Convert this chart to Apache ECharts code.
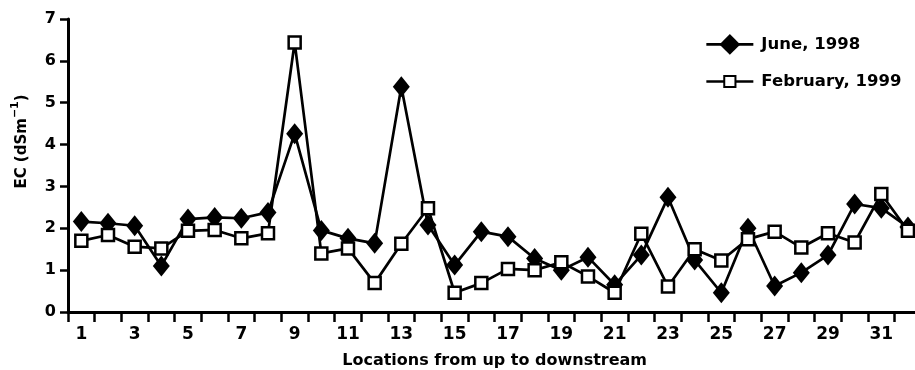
<!DOCTYPE html>
<html>
<head>
<meta charset="utf-8">
<script src="https://cdn.jsdelivr.net/npm/echarts@6/dist/echarts.min.js"></script>
<style>
  html, body { margin: 0; padding: 0; background: #fff; }
  #chart { width: 915px; height: 370px; }
</style>
</head>
<body>
<div id="chart"></div>
<script>
// Sampling locations, listed from upstream to downstream
const locations = ['1','2','3','4','5','6','7','8','9','10','11','12','13','14','15','16',
                   '17','18','19','20','21','22','23','24','25','26','27','28','29','30','31','32'];

// Electrical conductivity (dS/m) per location
const june1998 = [2.16, 2.12, 2.06, 1.10, 2.22, 2.26, 2.24, 2.38, 4.26, 1.95, 1.76, 1.64, 5.38, 2.08, 1.12, 1.92,
                  1.80, 1.28, 1.00, 1.31, 0.65, 1.36, 2.74, 1.24, 0.46, 2.00, 0.62, 0.94, 1.36, 2.58, 2.48, 2.03];
const feb1999  = [1.70, 1.84, 1.56, 1.52, 1.94, 1.96, 1.76, 1.88, 6.44, 1.40, 1.52, 0.69, 1.63, 2.48, 0.46, 0.69,
                  1.03, 1.00, 1.19, 0.85, 0.46, 1.87, 0.61, 1.50, 1.23, 1.74, 1.92, 1.54, 1.88, 1.66, 2.82, 1.94];

const yTicks = [0, 1, 2, 3, 4, 5, 6, 7];

const FONT = 'DejaVu Sans';
const INK = '#000';

const chart = echarts.init(document.getElementById('chart'), null, { renderer: 'canvas' });

const legendBase = {
  orient: 'vertical',
  left: 700,
  itemWidth: 47,
  selectedMode: false,
  textStyle: { fontFamily: FONT, fontWeight: 'bold', fontSize: 16.5, color: INK, padding: [0, 0, 0, 3] },
  lineStyle: { width: 2.7, color: INK }
};

chart.setOption({
  animation: false,
  backgroundColor: '#fff',
  // the last category runs past the right edge, so keep the grid at its fixed size
  grid: { left: 68, top: 19, width: 853.3, bottom: 58, containLabel: false, outerBoundsMode: 'none' },
  legend: [
    Object.assign({}, legendBase, { data: ['June, 1998'], top: 29, itemHeight: 26 }),
    Object.assign({}, legendBase, { data: ['February, 1999'], top: 68, itemHeight: 14 })
  ],
  xAxis: {
    type: 'category',
    data: locations,
    boundaryGap: true,
    name: 'Locations from up to downstream',
    nameLocation: 'middle',
    nameGap: 41,
    nameTextStyle: { fontFamily: FONT, fontWeight: 'bold', fontSize: 16, color: INK },
    axisLine: { show: true, lineStyle: { color: INK, width: 3 } },
    axisTick: { show: true, interval: 0, inside: false, length: 10, lineStyle: { color: INK, width: 2.5 } },
    axisLabel: {
      interval: 1, margin: 14,
      fontFamily: FONT, fontWeight: 'bold', fontSize: 17, color: INK
    },
    splitLine: { show: false }
  },
  yAxis: {
    type: 'value',
    min: yTicks[0],
    max: yTicks[yTicks.length - 1],
    interval: 1,
    name: '{a|EC (dSm}{s|−1}{a|)}',
    nameLocation: 'middle',
    nameRotate: 90,
    nameGap: 38,
    nameTextStyle: {
      padding: [0, 0, 0, 48],
      rich: {
        a: { fontFamily: FONT, fontWeight: 'bold', fontSize: 15, color: INK, lineHeight: 20, verticalAlign: 'bottom' },
        s: { fontFamily: FONT, fontWeight: 'bold', fontSize: 11, color: INK, lineHeight: 20, verticalAlign: 'top' }
      }
    },
    axisLine: { show: true, lineStyle: { color: INK, width: 3 } },
    axisTick: { show: true, length: 8, lineStyle: { color: INK, width: 2.5 } },
    axisLabel: { margin: 12, fontFamily: FONT, fontWeight: 'bold', fontSize: 16, color: INK },
    splitLine: { show: false }
  },
  series: [
    {
      name: 'June, 1998',
      type: 'line',
      data: june1998,
      symbol: 'diamond',
      symbolSize: [17, 21],
      showAllSymbol: true,
      lineStyle: { color: INK, width: 2.7 },
      itemStyle: { color: INK, borderColor: INK, borderWidth: 0 },
      emphasis: { disabled: true }
    },
    {
      name: 'February, 1999',
      type: 'line',
      data: feb1999,
      symbol: 'rect',
      symbolSize: 12,
      showAllSymbol: true,
      lineStyle: { color: INK, width: 2.7 },
      itemStyle: { color: '#fff', borderColor: INK, borderWidth: 2.5 },
      emphasis: { disabled: true }
    }
  ]
});
</script>
</body>
</html>
